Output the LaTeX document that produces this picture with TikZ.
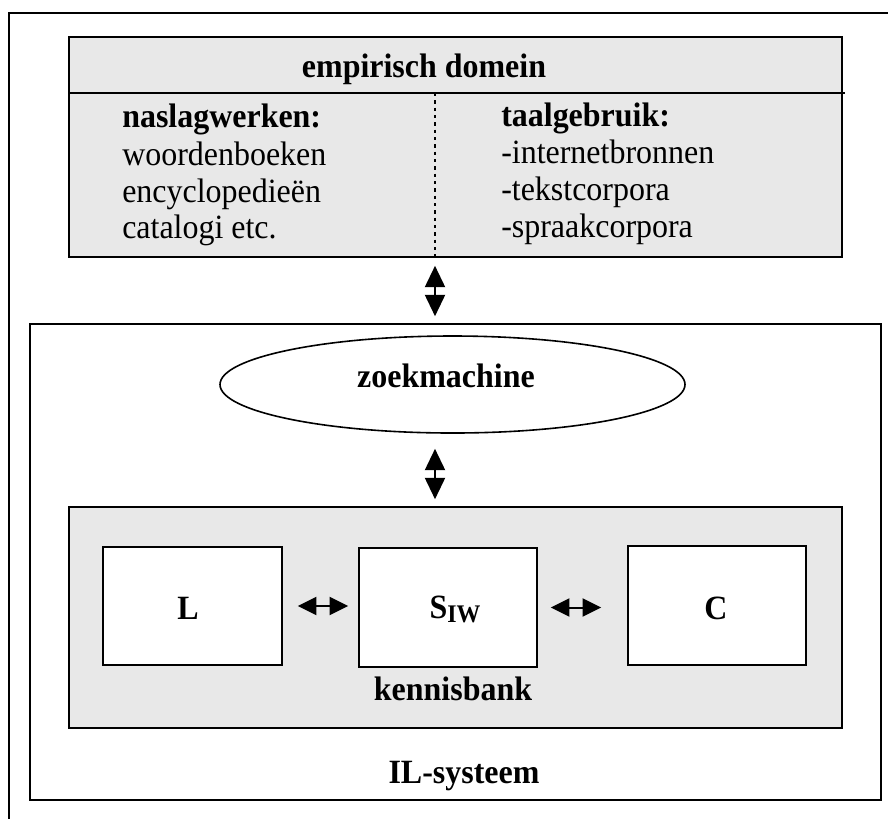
\documentclass[tikz,border=0pt]{standalone}
\usepackage{fontspec}
\setmainfont{Liberation Serif}[FakeStretch=0.94]
\usetikzlibrary{fit,shapes.geometric,arrows.meta}
\definecolor{panel}{HTML}{E8E8E8}
\begin{document}
\begin{tikzpicture}[x=0.75pt,y=-0.75pt,
  frame/.style={draw=black,line width=1.2pt,inner sep=0pt},
  panelbox/.style={frame,fill=panel},
  whitebox/.style={frame,fill=white},
  txt/.style={font=\fontsize{25.5}{30}\selectfont,inner sep=0pt,anchor=base west},
  boldtxt/.style={font=\fontsize{25.5}{30}\selectfont\bfseries,inner sep=0pt},
  bold/.style={boldtxt,anchor=base},
  vlink/.style={line width=1.5pt,{Triangle[length=16pt,width=15pt]}-{Triangle[length=16pt,width=15pt]}},
  hlink/.style={line width=1.5pt,{Triangle[length=14pt,width=13.5pt]}-{Triangle[length=14pt,width=13.5pt]}},
]
\useasboundingbox (0,0) rectangle (888,819);

% surrounding frame, open to the right and below
\draw[line width=1pt] (888,13) -- (9,13) -- (9,819);

% empirical domain
\node[panelbox, fit={(69,37) (842,257)}] (emp) {};
\coordinate (hdrR) at (845,93);
\draw[line width=1.2pt] (emp.west |- hdrR) -- (hdrR);
\coordinate (dott) at (435,93);
\draw[line width=1.6pt, dash pattern=on 2.5pt off 3pt] (dott) -- (dott |- emp.south) coordinate (dotb);

\node[bold] (emptitle) at (424,77) {empirisch domein};

\node[txt, font=\fontsize{25.5}{30}\selectfont\bfseries] (nsl) at (122,127) {naslagwerken:};
\node[txt] (nsl1) at (122,165) {woordenboeken};
\node[txt] (nsl2) at (122,202) {encyclopedieën};
\node[txt] (nsl3) at (122,238) {catalogi etc.};

\node[txt, font=\fontsize{25.5}{30}\selectfont\bfseries] (tg) at (501,126) {taalgebruik:};
\node[txt] (tg1) at (501,163) {-internetbronnen};
\node[txt] (tg2) at (501,200) {-tekstcorpora};
\node[txt] (tg3) at (501,237) {-spraakcorpora};

% IL system
\node[whitebox, fit={(30,324) (881,800)}] (il) {};
\node[bold] (illabel) at (464,783) {IL-systeem};

\node[draw, line width=1.2pt, ellipse, fill=white, inner sep=0pt,
      minimum width=348.75pt, minimum height=72.75pt] (zk) at (452.5,384.5) {};
\node[bold] (zklabel) at (446,387) {zoekmachine};

% knowledge base
\node[panelbox, fit={(69,507) (842,728)}] (kb) {};
\node[bold] (kblabel) at (453,700) {kennisbank};

\node[whitebox, fit={(103,547) (282,665)}] (L) {};
\node[whitebox, fit={(359,548) (537,667)}] (S) {};
\node[whitebox, fit={(628,546) (806,665)}] (C) {};

\node[bold] (Llabel) at (188,619) {L};
\node[bold] (Slabel) at (455,618) {S\raisebox{-0.12em}{\fontsize{19}{19}\selectfont IW}};
\node[bold] (Clabel) at (716,619) {C};

% links
\draw[vlink, shorten <=6pt, shorten >=5.25pt] (dotb) -- (il.north -| dotb);
\draw[vlink, shorten <=11.25pt, shorten >=5.25pt] (zk.south -| dotb) -- (kb.north -| dotb);
\draw[hlink, shorten <=11.25pt, shorten >=7.5pt] (L.east) -- (L.east -| S.west);
\draw[hlink, shorten <=9.75pt, shorten >=19.5pt] (S.east) -- (S.east -| C.west);
\end{tikzpicture}
\end{document}
